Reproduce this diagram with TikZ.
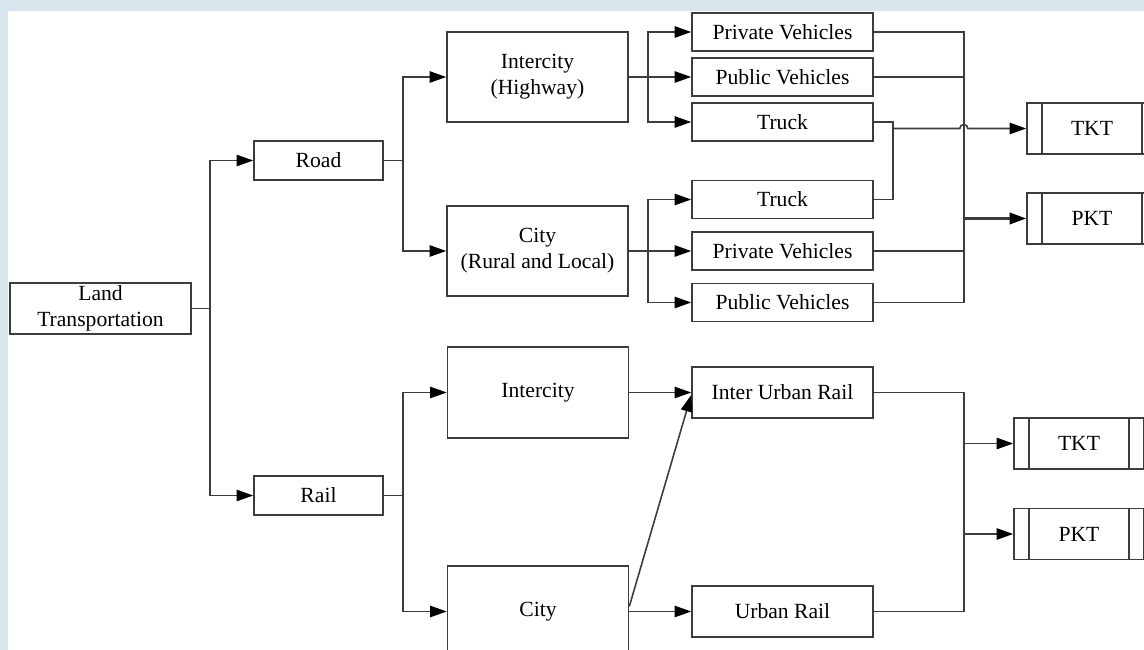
\documentclass[tikz,border=0pt]{standalone}
\usepackage{fontspec}
\setmainfont{Liberation Serif}
\usepackage{tikz}
\usetikzlibrary{calc, arrows.meta, positioning}
\definecolor{lineGray}{RGB}{60,60,60}
\definecolor{bgBlue}{RGB}{218,230,238}

\begin{document}
\begin{tikzpicture}[auto, >={Triangle[length=9.5pt, width=6.5pt, black]}, line width=0.9pt, draw=lineGray]
        % Definición de estilos para los bloques
        \tikzstyle{block} = [draw=lineGray, rectangle, minimum width=3.62cm, minimum height=0.76cm, inner sep=1pt, align=center, font=\fontsize{12.3}{14.8}\selectfont]
        \tikzstyle{mode} = [block, minimum width=2.58cm, minimum height=0.78cm]
        \tikzstyle{area} = [block, minimum height=1.8cm]
        \tikzstyle{process} = [block, minimum width=2.6cm, minimum height=1.02cm] % Bloque con barras laterales

        % Fondo y margenes
        \path [use as bounding box, clip] (0,0) rectangle (22.88,-13);
        \fill [bgBlue] (0,0) rectangle (22.88,-13);
        \fill [white] (0.16,-0.22) rectangle (22.88,-13);

        % Definición de nodos
        \node at (2.01,-6.17) [block, minimum height=1.02cm] (land) {Land\\Transportation};
        \node [mode, on grid, above right=2.96cm and 4.36cm of land] (road) {Road};
        \node [mode, on grid, below right=3.74cm and 4.36cm of land] (rail) {Rail};
        \node [area, on grid, above right=1.67cm and 4.38cm of road] (highway) {Intercity\\(Highway)};
        \node [area, on grid, below right=1.81cm and 4.38cm of road] (cityRoad) {City\\(Rural and Local)};
        \node [area, on grid, above right=2.06cm and 4.39cm of rail, minimum height=1.82cm] (interRail) {Intercity};
        \node [area, on grid, below right=2.32cm and 4.39cm of rail, minimum height=1.82cm] (cityRail) {City};
        \node [block, on grid, above right=0.9cm and 4.9cm of highway] (privHwy) {Private Vehicles};
        \node [block, on grid, right=4.9cm of highway] (pubHwy) {Public Vehicles};
        \node [block, on grid, below right=0.9cm and 4.9cm of highway] (truckHwy) {Truck};
        \node [block, on grid, above right=1.03cm and 4.9cm of cityRoad] (truckCity) {Truck};
        \node [block, on grid, right=4.9cm of cityRoad] (privCity) {Private Vehicles};
        \node [block, on grid, below right=1.03cm and 4.9cm of cityRoad] (pubCity) {Public Vehicles};
        \node [block, on grid, right=4.89cm of interRail, minimum height=1.02cm] (interUrban) {Inter Urban Rail};
        \node [block, on grid, right=4.89cm of cityRail, minimum height=1.02cm] (urban) {Urban Rail};
        \node [process, on grid, below right=0.13cm and 6.19cm of truckHwy] (tktRoad) {TKT};
        \node [process, on grid, below=1.8cm of tktRoad] (pktRoad) {PKT};
        \node [process, on grid, below right=1.02cm and 5.93cm of interUrban] (tktRail) {TKT};
        \node [process, on grid, below=1.81cm of tktRail] (pktRail) {PKT};

        % Barras laterales de los procesos
        \foreach \n in {tktRoad, pktRoad, tktRail, pktRail} {
            \draw ([xshift=0.32cm]\n.north west) -- ([xshift=0.32cm]\n.south west);
            \draw ([xshift=-0.32cm]\n.north east) -- ([xshift=-0.32cm]\n.south east);
        }

        % Puntos de bifurcación
        \node [coordinate, right=0.36cm of land.east] (splitLand) {};
        \node [coordinate, right=0.38cm of road.east] (splitRoad) {};
        \node [coordinate, right=0.38cm of rail.east] (splitRail) {};
        \node [coordinate, right=0.38cm of highway.east] (splitHwy) {};
        \node [coordinate, right=0.38cm of cityRoad.east] (splitCity) {};
        \node [coordinate, right=0.38cm of truckHwy.east] (joinTruck) {};
        \node [coordinate, right=1.8cm of privHwy.east] (joinRoad) {};
        \node [coordinate, right=1.8cm of interUrban.east] (joinRail) {};

        % Conexiones entre nodos
        \draw [-] (land) -- (splitLand);
        \draw [->] (splitLand) |- (road);
        \draw [->] (splitLand) |- (rail);
        \draw [-] (road) -- (splitRoad);
        \draw [->] (splitRoad) |- (highway);
        \draw [->] (splitRoad) |- (cityRoad);
        \draw [-] (rail) -- (splitRail);
        \draw [->] (splitRail) |- (interRail);
        \draw [->] (splitRail) |- (cityRail);
        \draw [-] (highway) -- (splitHwy);
        \draw [->] (splitHwy) |- (privHwy);
        \draw [->] (splitHwy) |- (pubHwy);
        \draw [->] (splitHwy) |- (truckHwy);
        \draw [-] (cityRoad) -- (splitCity);
        \draw [->] (splitCity) |- (truckCity);
        \draw [->] (splitCity) |- (privCity);
        \draw [->] (splitCity) |- (pubCity);
        \draw [->] (interRail) -- (interUrban);
        \draw [->] (cityRail) -- (urban);
        \draw [->] ([yshift=0.1cm]cityRail.east) -- ([yshift=-0.05cm]interUrban.west);

        % Salidas hacia TKT y PKT
        \draw [-] (truckHwy) -- (joinTruck) |- (truckCity);
        \draw [->] (joinTruck |- tktRoad) -- ([xshift=-0.08cm]joinRoad |- tktRoad) arc (180:0:0.08cm) -- (tktRoad);
        \draw [-] (privHwy) -- (joinRoad) |- (pubCity);
        \draw [-] (pubHwy) -- (joinRoad |- pubHwy);
        \draw [-] (privCity) -- (joinRoad |- privCity);
        \draw [->, line width=1.5pt] (joinRoad |- pktRoad) -- (pktRoad);
        \draw [-] (interUrban) -- (joinRail) |- (urban);
        \draw [->] (joinRail |- tktRail) -- (tktRail);
        \draw [->] (joinRail |- pktRail) -- (pktRail);
      \end{tikzpicture}
\end{document}
